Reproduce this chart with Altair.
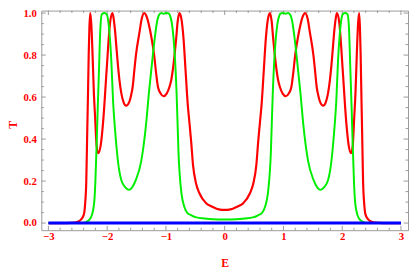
import altair as alt
import pandas as pd

# ---- data: (E, T) pairs ----
red_points = [
    (-3.0, 0.0), (-2.7, 0.0), (-2.55, 0.002), (-2.5, 0.006), (-2.45, 0.015), (-2.397, 0.04), (-2.375, 0.09),
    (-2.355, 0.2), (-2.34, 0.418), (-2.327, 0.6), (-2.314, 0.80), (-2.302, 0.93), (-2.288, 1.0), (-2.27, 0.95),
    (-2.248, 0.80), (-2.226, 0.62), (-2.203, 0.494), (-2.18, 0.37), (-2.15, 0.333), (-2.11, 0.37),
    (-2.065, 0.494), (-2.01, 0.724), (-1.95, 0.955), (-1.91, 1.0), (-1.89, 0.975), (-1.867, 0.92),
    (-1.84, 0.83), (-1.816, 0.75), (-1.79, 0.68), (-1.76, 0.62), (-1.72, 0.575), (-1.678, 0.559),
    (-1.62, 0.58), (-1.595, 0.605), (-1.566, 0.648), (-1.54, 0.72), (-1.51, 0.80),
    (-1.45, 0.908), (-1.41, 0.975), (-1.37, 1.0), (-1.33, 0.985), (-1.29, 0.945), (-1.25, 0.89), (-1.20, 0.80),
    (-1.165, 0.71), (-1.135, 0.648), (-1.09, 0.617), (-1.04, 0.604), (-0.99, 0.615), (-0.94, 0.648),
    (-0.91, 0.68), (-0.88, 0.735), (-0.826, 0.877), (-0.80, 0.96), (-0.77, 1.0), (-0.735, 0.97), (-0.70, 0.877),
    (-0.665, 0.724), (-0.63, 0.571), (-0.60, 0.479), (-0.57, 0.387), (-0.54, 0.28), (-0.487, 0.188),
    (-0.43, 0.142), (-0.32, 0.096), (-0.21, 0.078), (-0.1, 0.065),
    (0.0, 0.0625),
    (0.1, 0.065), (0.21, 0.078), (0.32, 0.096), (0.43, 0.142), (0.487, 0.188), (0.54, 0.28), (0.57, 0.387),
    (0.60, 0.479), (0.63, 0.571), (0.665, 0.724), (0.70, 0.877), (0.735, 0.97), (0.77, 1.0), (0.80, 0.96),
    (0.826, 0.877), (0.88, 0.735), (0.91, 0.68), (0.94, 0.648), (0.99, 0.615), (1.04, 0.604), (1.09, 0.617),
    (1.135, 0.648), (1.165, 0.71), (1.20, 0.80), (1.25, 0.89), (1.29, 0.945), (1.33, 0.985), (1.37, 1.0),
    (1.41, 0.975), (1.45, 0.908), (1.51, 0.80), (1.54, 0.72), (1.566, 0.648), (1.595, 0.605), (1.62, 0.58),
    (1.678, 0.559), (1.72, 0.575), (1.76, 0.62), (1.79, 0.68), (1.816, 0.75), (1.84, 0.83), (1.867, 0.92),
    (1.89, 0.975), (1.91, 1.0), (1.95, 0.955), (2.01, 0.724), (2.065, 0.494), (2.11, 0.37), (2.15, 0.333),
    (2.18, 0.37), (2.203, 0.494), (2.226, 0.62), (2.248, 0.80), (2.27, 0.95), (2.288, 1.0), (2.302, 0.93),
    (2.314, 0.80), (2.327, 0.6), (2.34, 0.418), (2.355, 0.2), (2.375, 0.09), (2.397, 0.04), (2.45, 0.015),
    (2.5, 0.006), (2.55, 0.002), (2.7, 0.0), (3.0, 0.0),
]

green_points = [
    (-3.0, 0.0), (-2.42, 0.0), (-2.35, 0.006), (-2.29, 0.02), (-2.24, 0.06), (-2.214, 0.12), (-2.20, 0.20),
    (-2.176, 0.40), (-2.16, 0.55), (-2.14, 0.72), (-2.115, 0.93), (-2.09, 0.995), (-2.05, 1.0), (-2.01, 0.995),
    (-1.98, 0.96), (-1.953, 0.88), (-1.93, 0.78), (-1.90, 0.585), (-1.87, 0.46), (-1.84, 0.36), (-1.80, 0.26),
    (-1.76, 0.205), (-1.69, 0.17), (-1.63, 0.158), (-1.58, 0.168), (-1.51, 0.207), (-1.42, 0.295),
    (-1.34, 0.464), (-1.286, 0.63), (-1.23, 0.78), (-1.19, 0.88), (-1.15, 0.96), (-1.12, 0.99), (-1.08, 1.0),
    (-1.04, 0.997), (-1.0, 1.0), (-0.96, 0.999), (-0.93, 0.988), (-0.90, 0.953), (-0.87, 0.88), (-0.845, 0.78),
    (-0.82, 0.63), (-0.80, 0.46), (-0.785, 0.33), (-0.765, 0.23), (-0.735, 0.14), (-0.69, 0.08), (-0.64, 0.05),
    (-0.56, 0.036), (-0.48, 0.027), (-0.35, 0.022), (-0.2, 0.018),
    (0.0, 0.0167),
    (0.2, 0.018), (0.35, 0.022), (0.48, 0.027), (0.56, 0.036), (0.64, 0.05), (0.69, 0.08), (0.735, 0.14),
    (0.765, 0.23), (0.785, 0.33), (0.80, 0.46), (0.82, 0.63), (0.845, 0.78), (0.87, 0.88), (0.90, 0.953),
    (0.93, 0.988), (0.96, 0.999), (1.0, 1.0), (1.04, 0.997), (1.08, 1.0), (1.12, 0.99), (1.15, 0.96),
    (1.19, 0.88), (1.23, 0.78), (1.286, 0.63), (1.34, 0.464), (1.42, 0.295), (1.51, 0.207), (1.58, 0.168),
    (1.63, 0.158), (1.69, 0.17), (1.76, 0.205), (1.80, 0.26), (1.84, 0.36), (1.87, 0.46), (1.90, 0.585),
    (1.93, 0.78), (1.953, 0.88), (1.98, 0.96), (2.01, 0.995), (2.05, 1.0), (2.09, 0.995), (2.115, 0.93),
    (2.14, 0.72), (2.16, 0.55), (2.176, 0.40), (2.20, 0.20), (2.214, 0.12), (2.24, 0.06), (2.29, 0.02),
    (2.35, 0.006), (2.42, 0.0), (3.0, 0.0),
]

blue_points = [(-3.0, 0.0), (-1.5, 0.0), (0.0, 0.0), (1.5, 0.0), (3.0, 0.0)]

x_major = [-3, -2, -1, 0, 1, 2, 3]
x_minor = [-2.8, -2.6, -2.4, -2.2, -1.8, -1.6, -1.4, -1.2, -0.8, -0.6, -0.4, -0.2,
           0.2, 0.4, 0.6, 0.8, 1.2, 1.4, 1.6, 1.8, 2.2, 2.4, 2.6, 2.8]
y_major = [0.0, 0.2, 0.4, 0.6, 0.8, 1.0]
y_minor = [0.05, 0.1, 0.15, 0.25, 0.3, 0.35, 0.45, 0.5, 0.55, 0.65, 0.7, 0.75, 0.85, 0.9, 0.95]

W, H = 374, 224
FONT = "Liberation Serif"
FRAME = "#999999"
TXT = "#ff0000"

xscale = alt.Scale(domain=[-3.12, 3.12], nice=False, zero=False)
yscale = alt.Scale(domain=[-0.034, 1.012], nice=False, zero=False)

xaxis = alt.Axis(values=x_major, format="d", ticks=False, domain=False, grid=False,
                 labelFont=FONT, labelFontWeight="bold", labelFontSize=11, labelColor=TXT,
                 labelPadding=1, title="E", titleFont=FONT, titleFontWeight="bold", titleFontSize=12,
                 titleColor=TXT, titleX=W / 2, titleY=37, titleBaseline="alphabetic")
yaxis = alt.Axis(values=y_major, format=".1f", ticks=False, domain=False, grid=False,
                 labelFont=FONT, labelFontWeight="bold", labelFontSize=11, labelColor=TXT,
                 labelPadding=5, title="T", titleFont=FONT, titleFontWeight="bold", titleFontSize=12,
                 titleColor=TXT, titleX=-34, titleY=H / 2 + 4, titleAngle=-90, titleBaseline="top")


def to_df(points):
    return pd.DataFrame({"E": [p[0] for p in points], "T": [p[1] for p in points]})


red = alt.Chart(to_df(red_points)).mark_line(color="#ff0000", strokeWidth=2.2, interpolate="monotone").encode(
    x=alt.X("E:Q", scale=xscale, axis=xaxis),
    y=alt.Y("T:Q", scale=yscale, axis=yaxis),
)
green = alt.Chart(to_df(green_points)).mark_line(color="#00ee00", strokeWidth=2.0, interpolate="monotone").encode(
    x=alt.X("E:Q", scale=xscale),
    y=alt.Y("T:Q", scale=yscale),
)
blue = alt.Chart(to_df(blue_points)).mark_line(color="#0000ff", strokeWidth=3.0).encode(
    x=alt.X("E:Q", scale=xscale),
    y=alt.Y("T:Q", scale=yscale),
)


def xticks(vals, length):
    d = pd.DataFrame({"E": vals})
    bottom = alt.Chart(d).mark_rule(color=FRAME, strokeWidth=1).encode(
        x=alt.X("E:Q", scale=xscale), y=alt.value(H), y2=alt.value(H - length))
    top = alt.Chart(d).mark_rule(color=FRAME, strokeWidth=1).encode(
        x=alt.X("E:Q", scale=xscale), y=alt.value(0), y2=alt.value(length))
    return [bottom, top]


def yticks(vals, length):
    d = pd.DataFrame({"T": vals})
    left = alt.Chart(d).mark_rule(color=FRAME, strokeWidth=1).encode(
        y=alt.Y("T:Q", scale=yscale), x=alt.value(0), x2=alt.value(length))
    right = alt.Chart(d).mark_rule(color=FRAME, strokeWidth=1).encode(
        y=alt.Y("T:Q", scale=yscale), x=alt.value(W), x2=alt.value(W - length))
    return [left, right]


layers = ([red] + xticks(x_major, 4.5) + xticks(x_minor, 2.5) + yticks(y_major, 4.5) + yticks(y_minor, 2.5)
          + [green, blue])

chart = alt.layer(*layers).properties(
    width=W, height=H,
    autosize=alt.AutoSizeParams(type="none"),
    padding={"left": 34, "top": 0, "right": 1, "bottom": 40},
    background="white",
).configure_view(stroke=FRAME, strokeWidth=1)

chart.save("out.html", embed_options={"renderer": "svg", "actions": False})
